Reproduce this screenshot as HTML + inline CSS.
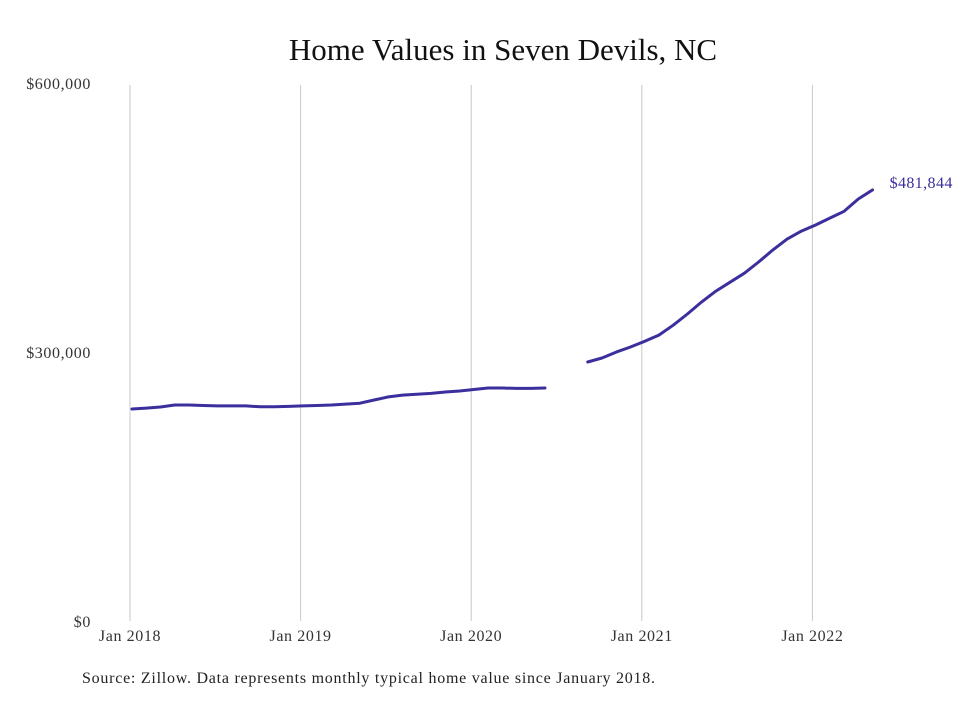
<!DOCTYPE html>
<html><head><meta charset="utf-8"><style>
body{margin:0;background:#fff;}
svg text{font-family:"Liberation Serif",serif;}
</style></head><body>
<svg id="chart" width="980" height="699" xmlns="http://www.w3.org/2000/svg">
<text x="503" y="60" text-anchor="middle" font-size="31" fill="#111">Home Values in Seven Devils, NC</text>
<g id="grid"></g><g id="yaxis"></g><g id="xaxis"></g><g id="lines"></g>
<text x="82" y="683" font-size="16" letter-spacing="0.75" fill="#222">Source: Zillow. Data represents monthly typical home value since January 2018.</text>
</svg>
<script>
const months = [];
for (let y = 2018; y <= 2022; y++) for (let m = 0; m < 12; m++) { if (y === 2022 && m > 4) break; months.push(y + '-' + (m + 1)); }
const values = [237.5,238.6,239.8,242,242,241.5,241,241,241,240,240,240.5,
241,241.5,242,243,244,247.6,251,253,254,255,256.5,257.6,
259.3,261,261,260.5,260.5,261,null,null,290,294.4,301,306.7,
313,320,331,343.5,357,369,379,389,401.5,415,427,436,
442.7,450.5,458,471.7,481.844].map(v => v === null ? null : v * 1000);
const yTicks = [0, 300000, 600000];
const yTickLabels = ['$0', '$300,000', '$600,000'];
const xTickYears = [2018, 2019, 2020, 2021, 2022];
const xTickLabels = ['Jan 2018', 'Jan 2019', 'Jan 2020', 'Jan 2021', 'Jan 2022'];
const endLabel = '$481,844';

const NS = 'http://www.w3.org/2000/svg';
const xScale = i => 132 + i * (170.9 / 12);
const gridX = i => 130 + i * (170.6 / 12);
const yScale = v => 622 - v * (538 / 600000);
function mk(tag, attrs, parent) { const e = document.createElementNS(NS, tag); for (const k in attrs) e.setAttribute(k, attrs[k]); document.getElementById(parent).appendChild(e); return e; }

xTickYears.forEach((yr, k) => {
  const x = gridX((yr - 2018) * 12);
  const g = mk('line', {x1: x, x2: x, y1: 85, y2: 621, stroke: '#c8c8c8', 'stroke-width': 1}, 'grid');
  
  
  const t = mk('text', {x: x, y: 641, 'text-anchor': 'middle', 'font-size': 16, 'letter-spacing': 0.6, fill: '#333'}, 'xaxis');
  t.textContent = xTickLabels[k];
  
  
});
yTicks.forEach((v, k) => {
  const t = mk('text', {x: 91, y: yScale(v) + 5, 'text-anchor': 'end', 'font-size': 16, 'letter-spacing': 0.6, fill: '#333'}, 'yaxis');
  t.textContent = yTickLabels[k];
  
  
});
let segs = [], cur = [];
values.forEach((v, i) => { if (v === null) { if (cur.length) segs.push(cur); cur = []; } else cur.push([xScale(i), yScale(v)]); });
if (cur.length) segs.push(cur);
segs.forEach(s => {
  const p = mk('path', {d: 'M' + s.map(q => q[0].toFixed(1) + ',' + q[1].toFixed(1)).join('L'), fill: 'none', stroke: '#3b2f9e', 'stroke-width': 3, 'stroke-linejoin': 'round', 'stroke-linecap': 'round'}, 'lines');
  
  
});
const li = values.length - 1;
const el = mk('text', {x: xScale(li) + 17, y: yScale(values[li]) - 2, 'font-size': 16, 'letter-spacing': 0.4, fill: '#3b2f9e'}, 'lines');
el.textContent = endLabel;


</script>
</body></html>
